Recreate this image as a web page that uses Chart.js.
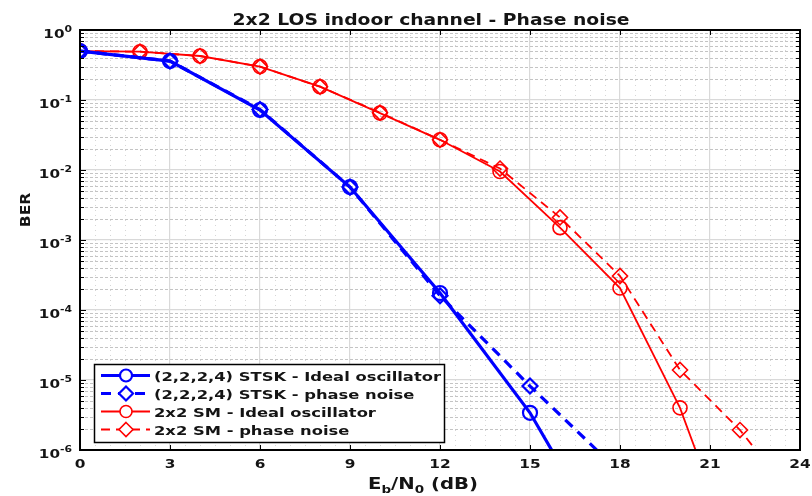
<!DOCTYPE html>
<html>
<head>
<meta charset="utf-8">
<script src="https://cdn.jsdelivr.net/npm/chart.js@4"></script>
<style>
  html, body { margin: 0; padding: 0; background: #ffffff; }
  #wrap { width: 812px; height: 496px; }
</style>
</head>
<body>
<div id="wrap"><canvas id="c" width="812" height="496"></canvas></div>
<script>
// ---- data ----
const titleText = '2x2 LOS indoor channel - Phase noise';
const xTickValues = [0, 3, 6, 9, 12, 15, 18, 21, 24];
const yTickExponents = [0, -1, -2, -3, -4, -5, -6];
const seriesLabels = [
  '(2,2,2,4) STSK - Ideal oscillator',
  '(2,2,2,4) STSK - phase noise',
  '2x2 SM - Ideal oscillator',
  '2x2 SM - phase noise'
];
const stskX = [0, 3, 6, 9, 12, 15, 18];
const stskIdeal = [0.5, 0.36, 0.072, 0.0057, 1.75e-4, 3.4e-6, 2.1e-8];
const stskPhase = [0.5, 0.36, 0.073, 0.0057, 1.6e-4, 8.2e-6, 4.8e-7];
const smIdealX = [0, 2, 4, 6, 8, 10, 12, 14, 16, 18, 20, 22];
const smIdeal = [0.5, 0.49, 0.425, 0.30, 0.155, 0.065, 0.027, 0.0095, 1.5e-3, 2.06e-4, 4.0e-6, 1.9e-8];
const smPhaseX = [0, 2, 4, 6, 8, 10, 12, 14, 16, 18, 20, 22, 24];
const smPhase = [0.5, 0.49, 0.425, 0.30, 0.155, 0.066, 0.027, 0.0105, 2.1e-3, 3.06e-4, 1.39e-5, 1.93e-6, 1.6e-7];

const X_MIN = 0, X_MAX = 24, Y_MIN = 1e-6, Y_MAX = 1;
const FONT = '"DejaVu Sans", "Liberation Sans", Arial, sans-serif';

function pts(xs, ys) { return xs.map((x, i) => ({ x: x, y: ys[i] })); }

const BLUE = '#0000ff', RED = '#ff0000';

const datasets = [
  { label: seriesLabels[0], data: pts(stskX, stskIdeal), borderColor: BLUE, borderWidth: 3.2,
    pointStyle: 'circle', pointRadius: 7, pointBorderWidth: 2.2, pointBorderColor: BLUE,
    pointBackgroundColor: 'rgba(0,0,0,0)', borderDash: [] },
  { label: seriesLabels[1], data: pts(stskX, stskPhase), borderColor: BLUE, borderWidth: 3.2,
    pointStyle: 'rectRot', pointRadius: 7.5, pointBorderWidth: 2.2, pointBorderColor: BLUE,
    pointBackgroundColor: 'rgba(0,0,0,0)', borderDash: [10, 7] },
  { label: seriesLabels[2], data: pts(smIdealX, smIdeal), borderColor: RED, borderWidth: 1.8,
    pointStyle: 'circle', pointRadius: 7, pointBorderWidth: 1.6, pointBorderColor: RED,
    pointBackgroundColor: 'rgba(0,0,0,0)', borderDash: [] },
  { label: seriesLabels[3], data: pts(smPhaseX, smPhase), borderColor: RED, borderWidth: 1.8,
    pointStyle: 'rectRot', pointRadius: 7.5, pointBorderWidth: 1.6, pointBorderColor: RED,
    pointBackgroundColor: 'rgba(0,0,0,0)', borderDash: [9, 6] }
];

function isDecade(v) {
  const l = Math.log10(v);
  return Math.abs(l - Math.round(l)) < 1e-6;
}

// draw horizontally stretched text (the reference glyphs are wide)
function sText(ctx, str, x, y, font, align, sx) {
  ctx.save();
  ctx.font = font;
  const w = ctx.measureText(str).width * sx;
  let left = x;
  if (align === 'center') left = x - w / 2;
  else if (align === 'right') left = x - w;
  ctx.translate(left, y);
  ctx.scale(sx, 1);
  ctx.textAlign = 'left';
  ctx.fillText(str, 0, 0);
  ctx.restore();
  return w;
}
function textW(ctx, str, font) { ctx.save(); ctx.font = font; const w = ctx.measureText(str).width; ctx.restore(); return w; }

// minor grid (dotted), drawn from the scales
const minorGrid = {
  id: 'minorGrid',
  beforeDatasetsDraw(chart) {
    const { ctx, chartArea: a, scales } = chart;
    const x = scales.x, y = scales.y;
    ctx.save();
    ctx.beginPath(); ctx.rect(a.left, a.top, a.right - a.left, a.bottom - a.top); ctx.clip();
    ctx.lineWidth = 1;
    ctx.strokeStyle = '#c4c4c4';
    ctx.setLineDash([3, 2]);
    for (const e of yTickExponents) {
      for (let m = 2; m <= 9; m++) {
        const v = m * Math.pow(10, e);
        if (v >= Y_MAX || v <= Y_MIN) continue;
        const py = Math.round(y.getPixelForValue(v)) + 0.5;
        ctx.beginPath(); ctx.moveTo(a.left, py); ctx.lineTo(a.right, py); ctx.stroke();
      }
    }
    ctx.strokeStyle = '#d6d6d6';
    ctx.setLineDash([1, 4]);
    for (let k = 1; k < (X_MAX - X_MIN) * 2; k++) {
      const v = X_MIN + k * 0.5;
      if (Math.abs(v % 3) < 1e-9) continue;
      const px = Math.round(x.getPixelForValue(v)) + 0.5;
      ctx.beginPath(); ctx.moveTo(px, a.top); ctx.lineTo(px, a.bottom); ctx.stroke();
    }
    ctx.restore();
  }
};

// box, inward ticks, tick labels, axis titles, title, legend
const decor = {
  id: 'decor',
  afterDraw(chart) {
    const { ctx, chartArea: a, scales } = chart;
    const x = scales.x, y = scales.y;
    ctx.save();
    ctx.setLineDash([]);
    ctx.strokeStyle = '#000';
    ctx.lineWidth = 1;
    for (const v of xTickValues) {
      const px = Math.round(x.getPixelForValue(v)) + 0.5;
      ctx.beginPath();
      ctx.moveTo(px, a.bottom); ctx.lineTo(px, a.bottom - 5);
      ctx.moveTo(px, a.top); ctx.lineTo(px, a.top + 5);
      ctx.stroke();
    }
    for (const e of yTickExponents) {
      for (let m = 1; m <= 9; m++) {
        const v = m * Math.pow(10, e);
        if (v > Y_MAX || v < Y_MIN) continue;
        const len = m === 1 ? 6 : 4;
        const py = Math.round(y.getPixelForValue(v)) + 0.5;
        ctx.beginPath();
        ctx.moveTo(a.left, py); ctx.lineTo(a.left + len, py);
        ctx.moveTo(a.right, py); ctx.lineTo(a.right - len, py);
        ctx.stroke();
      }
    }
    ctx.lineWidth = 2;
    ctx.strokeRect(a.left, a.top, a.right - a.left, a.bottom - a.top);

    ctx.fillStyle = '#141414';
    ctx.textBaseline = 'alphabetic';
    // x tick labels
    const tickFont = 'bold 12px ' + FONT;
    for (const v of xTickValues) {
      sText(ctx, String(v), x.getPixelForValue(v), a.bottom + 18, tickFont, 'center', 1.28);
    }
    // y tick labels 10^e
    const expFont = 'bold 9px ' + FONT;
    const baseFont = 'bold 13px ' + FONT;
    for (const e of yTickExponents) {
      const py = y.getPixelForValue(Math.pow(10, e));
      const expStr = e === 0 ? '0' : '-' + Math.abs(e);
      const right = 72;
      const ew = sText(ctx, expStr, right, py + 2, expFont, 'right', 1.2);
      sText(ctx, '10', right - ew, py + 8, baseFont, 'right', 1.17);
    }
    // x axis title E_b/N_0 (dB)
    const parts = [['E', 0, 16], ['b', 4, 11], ['/N', 0, 16], ['0', 4, 11], [' (dB)', 0, 16]];
    let total = 0;
    for (const p of parts) total += textW(ctx, p[0], 'bold ' + p[2] + 'px ' + FONT);
    const xsx = 110 / total;
    let cx = 423 - 110 / 2;
    for (const p of parts) {
      cx += sText(ctx, p[0], cx, 489 + p[1], 'bold ' + p[2] + 'px ' + FONT, 'left', xsx);
    }
    // y axis title
    ctx.save();
    ctx.translate(30, 210);
    ctx.rotate(-Math.PI / 2);
    sText(ctx, 'BER', 0, 0, 'bold 13.5px ' + FONT, 'center', 1.15);
    ctx.restore();
    // title (fit to width seen in the reference)
    const titleFont = 'bold 15.5px ' + FONT;
    sText(ctx, titleText, 431, 25, titleFont, 'center', 397 / textW(ctx, titleText, titleFont));

    // legend
    const lx = 94, ly = 364, lw = 350, lh = 78;
    ctx.fillStyle = '#fff';
    ctx.fillRect(lx, ly, lw, lh);
    ctx.strokeStyle = '#000'; ctx.lineWidth = 1.5;
    ctx.strokeRect(lx + 0.5, ly + 0.5, lw, lh);
    const legFont = 'bold 12.5px ' + FONT;
    const legSx = 287 / textW(ctx, seriesLabels[0], legFont);
    chart.data.datasets.forEach((ds, i) => {
      const ry = ly + 11.5 + i * 18;
      ctx.strokeStyle = ds.borderColor;
      ctx.lineWidth = ds.borderWidth;
      ctx.setLineDash(ds.borderDash || []);
      ctx.beginPath(); ctx.moveTo(101, ry); ctx.lineTo(150, ry); ctx.stroke();
      ctx.setLineDash([]);
      ctx.lineWidth = ds.pointBorderWidth;
      ctx.beginPath();
      if (ds.pointStyle === 'circle') {
        ctx.arc(126, ry, 6, 0, Math.PI * 2);
      } else {
        ctx.moveTo(126, ry - 7); ctx.lineTo(133, ry); ctx.lineTo(126, ry + 7); ctx.lineTo(119, ry); ctx.closePath();
      }
      ctx.fillStyle = '#fff'; ctx.fill();
      ctx.stroke();
      ctx.fillStyle = '#141414';
      sText(ctx, ds.label, 154, ry + 5, legFont, 'left', legSx);
    });
    ctx.restore();
  }
};

new Chart(document.getElementById('c'), {
  type: 'line',
  data: { datasets: datasets },
  options: {
    responsive: false,
    animation: false,
    devicePixelRatio: 1,
    layout: { padding: { left: 80, right: 12, top: 30, bottom: 46 } },
    elements: { line: { tension: 0, fill: false } },
    plugins: { legend: { display: false }, title: { display: false }, tooltip: { enabled: false } },
    scales: {
      x: {
        type: 'linear', min: X_MIN, max: X_MAX,
        ticks: { display: false, stepSize: 3 },
        grid: { color: '#d9d9d9', lineWidth: 1.2, drawTicks: false },
        border: { display: false },
        title: { display: false }
      },
      y: {
        type: 'logarithmic', min: Y_MIN, max: Y_MAX,
        ticks: { display: false },
        grid: {
          color: (ctx) => (ctx.tick && isDecade(ctx.tick.value)) ? '#d9d9d9' : 'rgba(0,0,0,0)',
          lineWidth: 1.2, drawTicks: false
        },
        border: { display: false },
        title: { display: false }
      }
    }
  },
  plugins: [minorGrid, decor]
});
</script>
</body>
</html>
